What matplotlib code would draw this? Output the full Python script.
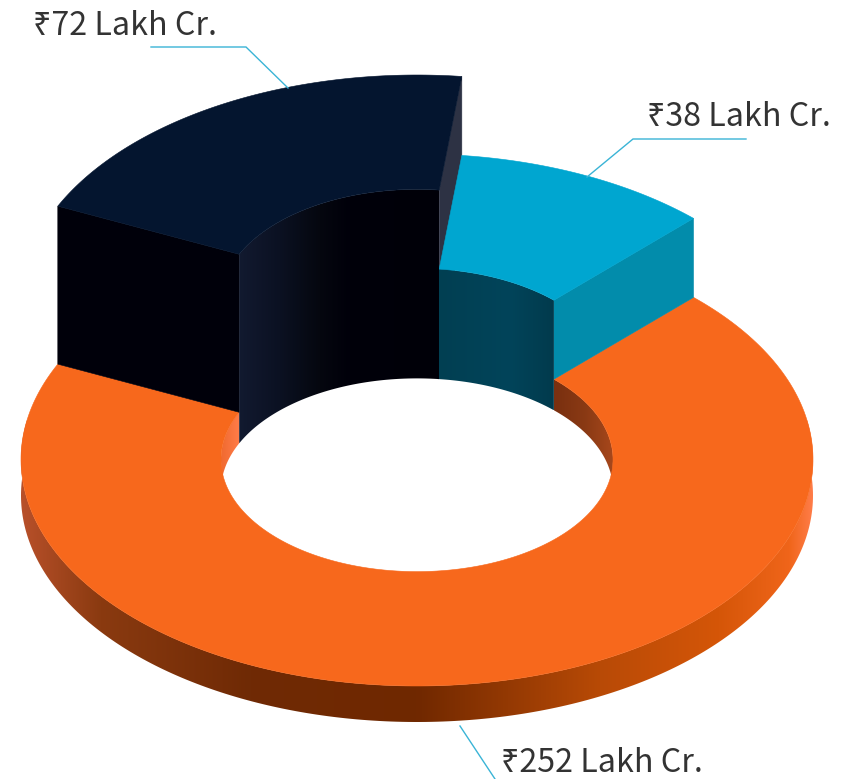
import numpy as np
import matplotlib
matplotlib.use("Agg")
import matplotlib.pyplot as plt
from matplotlib.colors import LinearSegmentedColormap
from matplotlib.patches import Polygon

# data
labels = ["₹38 Lakh Cr.", "₹252 Lakh Cr.", "₹72 Lakh Cr."]
values = [38, 252, 72]
start_angle = 6.5

# geometry of the projected ring
CX, CY, RX, RY = 417, 459.5, 396, 226.5
R_IN = 0.495
DROP_OUT, DROP_IN = 36, 31
H_BLUE, H_DARK = 79, 158

C_ORANGE, C_BLUE, C_NAVY = "#f7681c", "#00a6d0", "#04152f"
C_BLUE_CUT, C_NAVY_CUT, C_NAVY_SIDE = "#028cab", "#2d3244", "#00000a"
C_LINE, C_TEXT = "#3ab4d6", "#333333"

spans = np.array(values) / sum(values) * 360
edges = start_angle + np.concatenate([[0], np.cumsum(spans)])
blue_a, orange_a, dark_a = [(edges[i], edges[i + 1]) for i in range(3)]


def pt(r, deg, z=0.0):
    t = np.radians(deg)
    return np.column_stack([CX + r * RX * np.sin(t), CY - r * RY * np.cos(t) - z])


def top_face(ax, a, z, color, zo):
    th = np.linspace(*a, 240)
    xy = np.vstack([pt(1, th, z), pt(R_IN, th[::-1], z)])
    ax.add_patch(Polygon(xy, closed=True, fc=color, ec=color, lw=0.4, zorder=zo))


def wall(ax, a, r, z_top, z_bot, stops, zo):
    """Curved wall shaded left to right with a gradient clipped to its outline."""
    th = np.linspace(*a, 240)
    xy = np.vstack([pt(r, th, z_top), pt(r, th[::-1], z_bot)])
    x0, x1 = xy[:, 0].min(), xy[:, 0].max()
    y0, y1 = xy[:, 1].min(), xy[:, 1].max()
    xs = np.linspace(x0, x1, 512)
    sx = [s[0] for s in stops]
    rgb = np.array([matplotlib.colors.to_rgb(s[1]) for s in stops])
    grad = np.stack([np.interp(xs, sx, rgb[:, k]) for k in range(3)], axis=-1)[None, :, :]
    im = ax.imshow(grad, extent=[x0, x1, y1, y0], aspect="auto",
                   interpolation="bilinear", zorder=zo)
    clip = Polygon(xy, closed=True, transform=ax.transData, fc="none", ec="none")
    ax.add_patch(clip)
    im.set_clip_path(clip)


def cut_face(ax, deg, z_top, z_bot, color, zo):
    xy = np.vstack([pt(R_IN, deg, z_top), pt(1, deg, z_top), pt(1, deg, z_bot), pt(R_IN, deg, z_bot)])
    ax.add_patch(Polygon(xy, closed=True, fc=color, ec=color, lw=0.4, zorder=zo))


fig = plt.figure(figsize=(8.61, 7.79), dpi=100, facecolor="white")
ax = fig.add_axes([0, 0, 1, 1])

# orange ring: inner wall, rim, top
wall(ax, (orange_a[0], 92), R_IN, 0, -DROP_IN,
     [(556, "#7a3010"), (585, "#8a3a14"), (613, "#a8481c")], 1)
wall(ax, (268, orange_a[1]), R_IN, 0, -DROP_IN,
     [(221, "#f06a30"), (238, "#ff7c48")], 1)
wall(ax, (80, 280), 1, 0, -DROP_OUT,
     [(21, "#b8502a"), (100, "#8a3a10"), (250, "#6f2a05"), (417, "#702800"),
      (600, "#b84a06"), (720, "#d55608"), (790, "#f0651a"), (813, "#ff7c48")], 2)
top_face(ax, orange_a, 0, C_ORANGE, 3)

# dark block: right cut face sits behind the blue block
cut_face(ax, dark_a[1], H_DARK, 0, C_NAVY_CUT, 4)

# blue block
cut_face(ax, blue_a[1], H_BLUE, 0, C_BLUE_CUT, 5)
wall(ax, (blue_a[0] - 0.6, blue_a[1]), R_IN, H_BLUE, -DROP_IN,
     [(438, "#013f52"), (510, "#02445a"), (556, "#013a4c")], 6)
top_face(ax, blue_a, H_BLUE, C_BLUE, 7)

# dark block: inner wall, left cut face, top
cut_face(ax, dark_a[0], H_DARK, 0, C_NAVY_SIDE, 8)
wall(ax, dark_a, R_IN, H_DARK, -DROP_IN,
     [(238, "#121a30"), (280, "#0b1122"), (320, "#05070f"), (350, "#00000a"), (439, "#000008")], 9)
top_face(ax, dark_a, H_DARK, C_NAVY, 10)

# leader lines
leaders = [([746, 633, 587], [139, 139, 177]),
           ([460, 495], [726, 779]),
           ([151, 246, 288], [47, 47, 88])]
for xs, ys in leaders:
    ax.plot(xs, ys, color=C_LINE, lw=1.0, zorder=11, solid_joinstyle="miter")

# labels
anchors = [(647, 126), (501, 772), (33, 35)]
for (x, y), s in zip(anchors, labels):
    ax.text(x, y, s, fontsize=23.2, color=C_TEXT, family=["Noto Sans CJK SC", "Noto Sans", "DejaVu Sans"],
            ha="left", va="baseline", zorder=12)

ax.set_xlim(0, 861)
ax.set_ylim(779, 0)
ax.axis("off")
fig.savefig("out.png", dpi=100, facecolor="white")
